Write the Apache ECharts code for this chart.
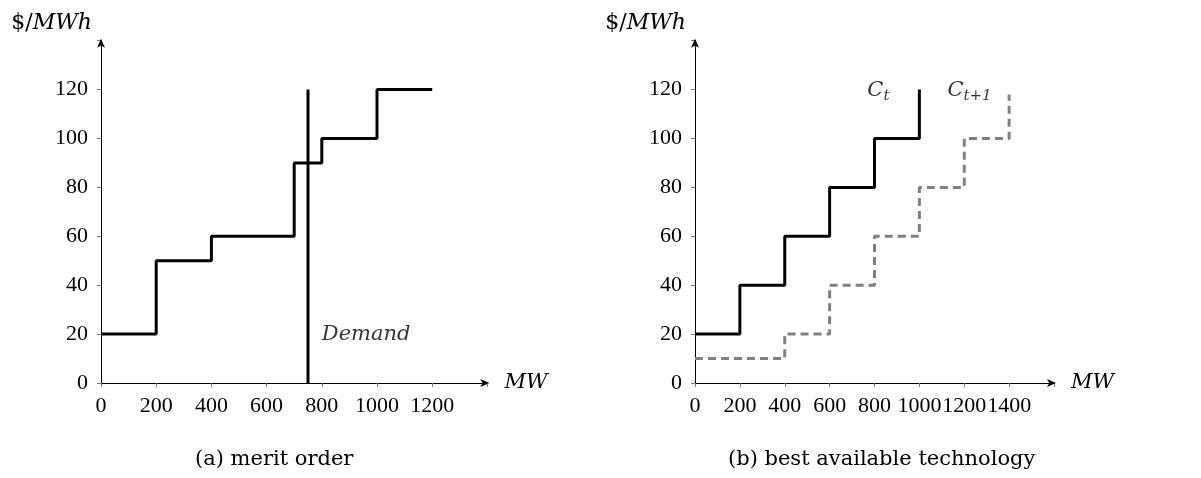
<!DOCTYPE html>
<html>
<head>
<meta charset="utf-8">
<script src="https://cdn.jsdelivr.net/npm/echarts@6/dist/echarts.min.js"></script>
<style>
html,body{margin:0;padding:0;background:#fff;}
#chart{width:1201px;height:478px;}
</style>
</head>
<body>
<div id="chart"></div>
<script>
// ---- Data ----
// (a) merit order: breakpoints of the supply curve (step drawn at each MW)
const meritMW = [0, 200, 400, 700, 800, 1000, 1200];
const meritPrice = [20, 50, 60, 90, 100, 120, 120];
const demandMW = [750, 750];
const demandPrice = [0, 120];
// (b) best available technology
const ctMW = [0, 200, 400, 600, 800, 1000];
const ctPrice = [20, 40, 60, 80, 100, 120];
const ct1MW = [0, 400, 600, 800, 1000, 1200, 1400];
const ct1Price = [10, 20, 40, 60, 80, 100, 118];
// tick labels
const yTicks = [0, 20, 40, 60, 80, 100, 120];
const xTicksA = [0, 200, 400, 600, 800, 1000, 1200];
const xTicksB = [0, 200, 400, 600, 800, 1000, 1200, 1400];
// annotation positions (data coords)
const demandLabelAt = [800, 20];
const ctLabelAt = [768, 118];
const ct1LabelAt = [1125, 118];

const zip = (xs, ys) => xs.map((x, i) => [x, ys[i]]);

const FONT = '"Liberation Serif", serif';
const FONT2 = '"DejaVu Serif", serif';
const FS = 21;

function xAxisCfg(gridIndex, max, ticks) {
  return {
    type: 'value', gridIndex, min: 0, max, interval: 200,
    name: 'MW', nameLocation: 'end', nameGap: 17,
    nameTextStyle: { fontFamily: FONT2, fontSize: FS, fontStyle: 'italic', color: '#000' },
    axisLine: { show: true, onZero: false, symbol: ['none', 'arrow'], symbolSize: [6, 9], symbolOffset: [0, 2],
      lineStyle: { color: '#000', width: 1 } },
    axisTick: { show: true, length: 4, lineStyle: { color: '#777', width: 1 } },
    axisLabel: { fontFamily: FONT, fontSize: 22, color: '#000', margin: 12, hideOverlap: false,
      formatter: v => ticks.includes(v) ? String(v) : '' },
    splitLine: { show: false }
  };
}
function yAxisCfg(gridIndex) {
  return {
    type: 'value', gridIndex, min: 0, max: 140, interval: 20,
    name: '{u|$/}{i|MWh}', nameLocation: 'end', nameGap: 6,
    nameTextStyle: { align: 'right', padding: [0, 9, 0, 0],
      rich: {
        u: { fontFamily: FONT2, fontSize: 22, color: '#000' },
        i: { fontFamily: FONT2, fontSize: 22, fontStyle: 'italic', color: '#000' }
      } },
    axisLine: { show: true, onZero: false, symbol: ['none', 'arrow'], symbolSize: [6, 9], symbolOffset: [0, 2],
      lineStyle: { color: '#000', width: 1 } },
    axisTick: { show: true, length: 4, lineStyle: { color: '#777', width: 1 } },
    axisLabel: { fontFamily: FONT, fontSize: 22, color: '#000', margin: 13,
      formatter: v => yTicks.includes(v) ? String(v) : '' },
    splitLine: { show: false }
  };
}

function labelSeries(xi, yi, at, text, rich, offset) {
  return {
    type: 'scatter', xAxisIndex: xi, yAxisIndex: yi, data: [at], symbolSize: 0, silent: true,
    itemStyle: { color: '#000' },
    label: { show: true, position: 'right', distance: 0, offset: offset || [0, 0], formatter: text, rich,
      color: '#000', fontFamily: FONT2, fontSize: FS, fontStyle: 'italic' },
    emphasis: { disabled: true },
    z: 10
  };
}

const subRich = {
  c: { fontFamily: FONT2, fontSize: FS, fontStyle: 'italic', color: '#000', lineHeight: 30, verticalAlign: 'middle' },
  s: { fontFamily: FONT2, fontSize: 15, fontStyle: 'italic', color: '#000', lineHeight: 30, verticalAlign: 'middle', padding: [12, 0, 0, 0] },
  p: { fontFamily: FONT2, fontSize: 15, color: '#000', lineHeight: 30, verticalAlign: 'middle', padding: [12, 0, 0, 0] }
};

const chart = echarts.init(document.getElementById('chart'), null, { renderer: 'canvas' });
chart.setOption({
  backgroundColor: '#fff',
  animation: false,
  grid: [
    { left: 101, right: 713.6, top: 40.7, bottom: 95 },
    { left: 695, right: 147, top: 40.7, bottom: 95 }
  ],
  xAxis: [xAxisCfg(0, 1400, xTicksA), xAxisCfg(1, 1600, xTicksB)],
  yAxis: [yAxisCfg(0), yAxisCfg(1)],
  series: [
    { type: 'line', xAxisIndex: 0, yAxisIndex: 0, step: 'end', data: zip(meritMW, meritPrice),
      showSymbol: false, lineStyle: { color: '#000', width: 3 } },
    { type: 'line', xAxisIndex: 0, yAxisIndex: 0, data: zip(demandMW, demandPrice),
      showSymbol: false, lineStyle: { color: '#000', width: 3 } },
    labelSeries(0, 0, demandLabelAt, 'Demand', undefined),
    { type: 'line', xAxisIndex: 1, yAxisIndex: 1, step: 'end', data: zip(ctMW, ctPrice),
      showSymbol: false, lineStyle: { color: '#000', width: 3 } },
    { type: 'line', xAxisIndex: 1, yAxisIndex: 1, step: 'end', data: zip(ct1MW, ct1Price),
      showSymbol: false, lineStyle: { color: '#808080', width: 3, type: [8, 5] } },
    labelSeries(1, 1, ctLabelAt, '{c|C}{s|t}', subRich, [0, -4]),
    labelSeries(1, 1, ct1LabelAt, '{c|C}{s|t}{p|+1}', subRich, [0, -4])
  ],
  graphic: [
    { type: 'text', left: 195, top: 449,
      style: { text: '(a) merit order', fontFamily: FONT2, fontSize: FS, fill: '#000' } },
    { type: 'text', left: 728, top: 449,
      style: { text: '(b) best available technology', fontFamily: FONT2, fontSize: FS, fill: '#000' } }
  ]
});
</script>
</body>
</html>
